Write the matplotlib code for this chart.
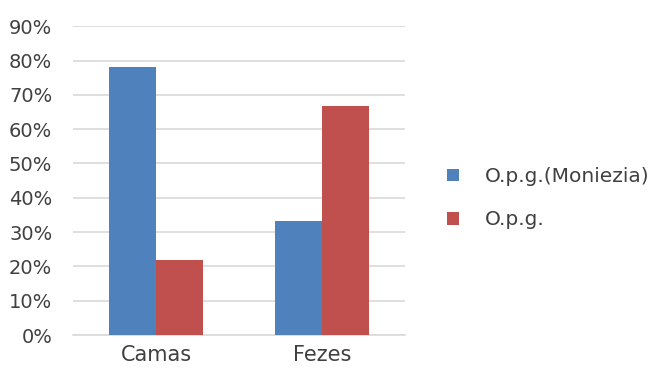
import numpy as np
import matplotlib.pyplot as plt
from matplotlib.ticker import PercentFormatter

categorias = ["Camas", "Fezes"]
moniezia = [78.0, 33.3]
opg = [22.0, 66.7]
rotulos = ["O.p.g.(Moniezia)", "O.p.g."]

azul = "#4F81BD"
vermelho = "#C0504D"
texto = "#404040"

fig = plt.figure(figsize=(6.65, 3.74), dpi=100)
ax = fig.add_axes([0.11, 0.104, 0.499, 0.826])

x = np.arange(len(categorias))
largura = 0.284
b1 = ax.bar(x - largura / 2, moniezia, largura, color=azul, label=rotulos[0], zorder=3)
b2 = ax.bar(x + largura / 2, opg, largura, color=vermelho, label=rotulos[1], zorder=3)

ax.set_xlim(-0.5, 1.5)
ax.set_ylim(0, 90)
ax.set_yticks(np.arange(0, 91, 10))
ax.yaxis.set_major_formatter(PercentFormatter(decimals=0))
ax.set_xticks(x)
ax.set_xticklabels(categorias)
ax.grid(axis="y", color="#d9d9d9", linewidth=1.2, zorder=0)
ax.axhline(0, color="#d9d9d9", linewidth=1.2, zorder=2, clip_on=False)
for s in ax.spines.values():
    s.set_visible(False)
ax.tick_params(axis="y", length=0, labelsize=14, colors=texto, pad=15)
ax.tick_params(axis="x", length=0, labelsize=15, colors=texto, pad=7)

fig.legend(handles=[b1, b2], labels=rotulos, loc="center left",
           bbox_to_anchor=(0.645, 0.47), frameon=False, fontsize=14.5,
           labelcolor=texto, handlelength=0.6, handleheight=0.6,
           handletextpad=1.3, labelspacing=1.2)

fig.savefig("out.png", dpi=100)
